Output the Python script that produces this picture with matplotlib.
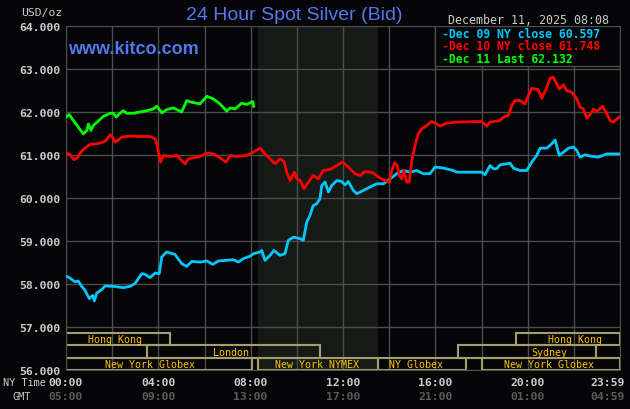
"""
24 Hour Spot Silver (Bid) -- kitco-style chart, Dec 11 2025.
Three day-traces on a 00:00-23:59 NY-time axis plus trading session bars.
"""

import matplotlib.pyplot as plt
import matplotlib.transforms as mtransforms
from matplotlib.patches import Rectangle

# ── Data (hours in NY time, USD/oz) ──────────────────────────────────────────
DEC09_H = [0.0, 0.14, 0.39, 0.53, 0.68, 0.82, 1.01, 1.16, 1.23, 1.33, 1.55, 1.69,
           2.05, 2.48, 2.77, 2.99, 3.28, 3.42, 3.64, 3.86, 4.04, 4.15, 4.36, 4.51,
           4.72, 5.01, 5.23, 5.45, 5.81, 6.10, 6.36, 6.60, 6.96, 7.25, 7.47, 7.68,
           7.97, 8.12, 8.41, 8.48, 8.62, 8.84, 9.01, 9.27, 9.49, 9.63, 9.85, 10.14,
           10.28, 10.43, 10.57, 10.71, 10.86, 11.0, 11.08, 11.22, 11.37, 11.51, 11.73,
           11.94, 12.09, 12.23, 12.45, 12.60, 12.88, 13.17, 13.46, 13.75, 14.04, 14.33,
           14.62, 14.90, 15.19, 15.48, 15.77, 15.99, 16.35, 16.78, 16.93, 18.01, 18.15,
           18.37, 18.52, 18.66, 18.80, 19.24, 19.38, 19.67, 19.96, 20.18, 20.39, 20.54,
           20.83, 21.04, 21.19, 21.26, 21.37, 21.55, 21.77, 21.98, 22.13, 22.27, 22.49,
           22.70, 23.06, 23.43, 23.96]
DEC09_V = [58.180, 58.150, 58.050, 58.070, 57.945, 57.855, 57.660, 57.735, 57.605,
           57.790, 57.870, 57.955, 57.945, 57.915, 57.945, 58.010, 58.240, 58.225,
           58.150, 58.255, 58.240, 58.630, 58.745, 58.720, 58.690, 58.475, 58.410,
           58.525, 58.510, 58.535, 58.455, 58.535, 58.550, 58.565, 58.510, 58.590,
           58.645, 58.705, 58.745, 58.780, 58.550, 58.665, 58.780, 58.665, 58.705,
           59.015, 59.090, 59.055, 59.015, 59.440, 59.595, 59.825, 59.865, 59.980,
           60.290, 60.370, 60.140, 60.290, 60.405, 60.385, 60.305, 60.385, 60.175,
           60.100, 60.175, 60.255, 60.330, 60.330, 60.445, 60.565, 60.640, 60.600,
           60.640, 60.565, 60.565, 60.720, 60.695, 60.640, 60.600, 60.600, 60.540,
           60.755, 60.680, 60.680, 60.770, 60.810, 60.695, 60.640, 60.640, 60.835,
           60.990, 61.160, 61.160, 61.260, 61.350, 61.205, 60.990, 61.065, 61.160,
           61.185, 61.105, 60.950, 61.005, 60.975, 60.950, 61.025, 61.025]

DEC10_H = [0.0, 0.17, 0.35, 0.49, 0.64, 0.82, 1.04, 1.33, 1.62, 1.76, 1.91, 2.02,
           2.12, 2.27, 2.41, 2.77, 3.21, 3.64, 3.86, 3.96, 4.04, 4.10, 4.22, 4.51,
           4.80, 5.01, 5.16, 5.30, 5.52, 5.81, 6.10, 6.38, 6.67, 6.93, 7.11, 7.40,
           7.83, 8.12, 8.41, 8.62, 8.84, 9.06, 9.27, 9.45, 9.56, 9.71, 9.89, 10.0,
           10.14, 10.31, 10.50, 10.71, 10.93, 11.15, 11.44, 11.73, 11.97, 12.23, 12.52,
           12.74, 12.95, 13.31, 13.53, 13.82, 14.01, 14.11, 14.25, 14.35, 14.44, 14.54,
           14.64, 14.76, 14.87, 14.98, 15.12, 15.26, 15.41, 15.63, 15.84, 16.06, 16.20,
           16.49, 16.93, 18.01, 18.23, 18.37, 18.80, 18.95, 19.16, 19.31, 19.45, 19.67,
           19.89, 20.03, 20.18, 20.46, 20.61, 20.80, 20.97, 21.11, 21.26, 21.37, 21.55,
           21.69, 21.91, 22.13, 22.27, 22.41, 22.56, 22.70, 22.85, 22.99, 23.25, 23.43,
           23.57, 23.71, 23.86, 23.96]
DEC10_V = [61.045, 61.010, 60.890, 60.935, 61.065, 61.160, 61.245, 61.260, 61.300,
           61.350, 61.475, 61.415, 61.300, 61.350, 61.415, 61.440, 61.430, 61.430,
           61.375, 61.220, 60.950, 60.835, 60.990, 60.965, 60.990, 60.870, 60.795,
           60.910, 60.935, 60.965, 61.045, 61.025, 60.935, 60.835, 60.990, 60.965,
           60.990, 61.065, 61.160, 61.025, 60.910, 60.795, 60.910, 60.850, 60.600,
           60.405, 60.600, 60.445, 60.405, 60.215, 60.370, 60.525, 60.445, 60.640,
           60.665, 60.755, 60.835, 60.720, 60.565, 60.525, 60.615, 60.585, 60.485,
           60.405, 60.370, 60.640, 60.820, 60.755, 60.525, 60.445, 60.640, 60.370,
           60.370, 60.870, 61.220, 61.490, 61.610, 61.685, 61.780, 61.725, 61.670,
           61.740, 61.765, 61.780, 61.670, 61.765, 61.800, 61.880, 61.915, 62.150,
           62.265, 62.265, 62.190, 62.380, 62.550, 62.520, 62.320, 62.535, 62.785,
           62.810, 62.655, 62.535, 62.630, 62.500, 62.460, 62.305, 62.110, 62.070,
           61.855, 61.935, 62.070, 62.010, 62.135, 61.955, 61.800, 61.765, 61.840,
           61.880]

DEC11_H = [0.0, 0.14, 0.32, 0.53, 0.75, 0.90, 0.97, 1.08, 1.18, 1.40, 1.62, 1.91,
           2.05, 2.17, 2.34, 2.48, 2.63, 2.92, 3.21, 3.50, 3.78, 3.93, 4.03, 4.15,
           4.36, 4.65, 5.01, 5.23, 5.45, 5.81, 6.10, 6.38, 6.67, 6.96, 7.11, 7.32,
           7.61, 7.83, 8.09, 8.13]
DEC11_V = [61.880, 61.940, 61.800, 61.650, 61.490, 61.570, 61.720, 61.570, 61.685,
           61.790, 61.900, 61.970, 61.970, 61.880, 61.970, 62.030, 61.970, 61.970,
           62.000, 62.030, 62.070, 62.135, 62.070, 61.980, 62.055, 62.095, 62.000,
           62.265, 62.225, 62.190, 62.365, 62.305, 62.190, 62.020, 62.095, 62.070,
           62.205, 62.175, 62.245, 62.132]

LEGEND_LABELS = ["-Dec 09 NY close 60.597", "-Dec 10 NY close 61.748", "-Dec 11 Last 62.132"]

Y_TICKS = [56, 57, 58, 59, 60, 61, 62, 63, 64]
Y_LABELS = ["56.000", "57.000", "58.000", "59.000", "60.000", "61.000", "62.000", "63.000", "64.000"]

TIME_AT = [0, 4, 8, 12, 16, 20, 24]
NY_LABELS = ["00:00", "04:00", "08:00", "12:00", "16:00", "20:00", "23:59"]
GMT_LABELS = ["05:00", "09:00", "13:00", "17:00", "21:00", "01:00", "04:59"]

# NYMEX pit hours (shaded)
PIT_OPEN, PIT_CLOSE = 8.33, 13.52

# session bars: row 0 = bottom, row 2 = top
SESSION_NAMES = ["Hong Kong", "London", "New York Globex", "New York NYMEX",
                 "NY Globex", "New York Globex", "Sydney", "Hong Kong"]
SESSION_ROW = [2, 1, 0, 0, 0, 0, 1, 2]
SESSION_START = [0.0, 3.5, 0.0, 8.33, 13.52, 18.0, 17.0, 19.5]
SESSION_END = [4.5, 11.0, 8.05, 13.52, 17.33, 24.0, 22.96, 24.0]
SESSION_LABEL_AT = [2.14, 7.15, 3.64, 10.87, 15.16, 20.93, 20.95, 22.05]

# ── Style ────────────────────────────────────────────────────────────────────
BG = "#050507"
SHADE = "#161a16"
GRID = "#4c4c4c"
TXT = "#cccccc"
GMT_TXT = "#5c5c5c"
BLUE = "#5577ee"
BOX = "#a59d6a"
ORANGE = "#ffc400"
COLORS = ["#00c8ff", "#ff0000", "#00ff00"]
MONO = "DejaVu Sans Mono"
SANS = "Liberation Sans"
W, H = 630, 410

ROW_Y = [56.0, 56.28, 56.58]
ROW_H = 0.29


def fx(x):
    return x / W


def fy(y):
    return 1 - y / H


fig = plt.figure(figsize=(W / 100, H / 100), dpi=100, facecolor=BG)
ax = fig.add_axes([fx(66), fy(371), (620 - 66) / W, (371 - 27) / H])
ax.set_facecolor(BG)
ax.set_xlim(0, 24)
ax.set_ylim(56, 64)

ax.axvspan(PIT_OPEN, PIT_CLOSE, color=SHADE, lw=0, zorder=0)
ax.set_xticks(range(0, 25, 2))
ax.set_yticks(Y_TICKS)
ax.grid(True, color=GRID, lw=1.0)
ax.set_axisbelow(True)
ax.tick_params(length=0, labelbottom=False)
ax.set_yticklabels(Y_LABELS, fontfamily=MONO, fontweight="bold", fontsize=8.2, color=TXT)
ax.tick_params(axis="y", pad=4)
for s in ax.spines.values():
    s.set_color(GRID)

# price traces
for hrs, vals, col in [(DEC09_H, DEC09_V, COLORS[0]),
                       (DEC10_H, DEC10_V, COLORS[1]),
                       (DEC11_H, DEC11_V, COLORS[2])]:
    ax.plot(hrs, vals, color=col, lw=2.0, zorder=3)

# trading sessions
for name, row, t0, t1, at in zip(SESSION_NAMES, SESSION_ROW, SESSION_START,
                                 SESSION_END, SESSION_LABEL_AT):
    ax.add_patch(Rectangle((t0, ROW_Y[row]), t1 - t0, ROW_H, fill=False,
                           ec=BOX, lw=1.5, zorder=2))
    ax.text(at, ROW_Y[row] + ROW_H / 2, name, ha="center", va="center",
            fontfamily=MONO, fontsize=7.2, color=ORANGE, zorder=4)

# legend box
ax.add_patch(Rectangle((16, 63.08), 8, 0.92, fc=BG, ec=GRID, lw=1.0, zorder=5))
for i, (lab, col) in enumerate(zip(LEGEND_LABELS, COLORS)):
    fig.text(fx(442), fy(34 + 12.6 * i), lab, ha="left", va="center",
             fontfamily=MONO, fontweight="bold", fontsize=8.3, color=col)

# headers
fig.text(fx(294), fy(16), "24 Hour Spot Silver (Bid)", ha="center", va="center",
         fontfamily=SANS, fontsize=14, color=BLUE)
fig.text(fx(68), fy(49), "www.kitco.com", ha="left", va="center",
         fontfamily=SANS, fontweight="bold", fontsize=13, color=BLUE)
fig.text(fx(448), fy(20), "December 11, 2025 08:08", ha="left", va="center",
         fontfamily=MONO, fontsize=8.4, color=TXT)
fig.text(fx(62), fy(13), "USD/oz", ha="right", va="center",
         fontfamily=MONO, fontsize=8.2, color=TXT)

# time axis labels
trans = mtransforms.blended_transform_factory(ax.transData, fig.transFigure)
for t, ny, gmt in zip(TIME_AT, NY_LABELS, GMT_LABELS):
    ha = "right" if t == 24 else "center"
    tr = mtransforms.offset_copy(trans, fig=fig, x=5 if t == 24 else 0, units="dots")
    fig.text(t, fy(383), ny, transform=tr, ha=ha, va="center",
             fontfamily=MONO, fontweight="bold", fontsize=8.2, color=TXT)
    fig.text(t, fy(397), gmt, transform=tr, ha=ha, va="center",
             fontfamily=MONO, fontweight="bold", fontsize=8.2, color=GMT_TXT)
fig.text(fx(3), fy(383), "NY Time", ha="left", va="center",
         fontfamily=MONO, fontsize=7.4, color=TXT)
fig.text(fx(12), fy(397), "GMT", ha="left", va="center",
         fontfamily=MONO, fontsize=7.4, color=TXT)

fig.savefig("out.png", dpi=100, facecolor=BG)
